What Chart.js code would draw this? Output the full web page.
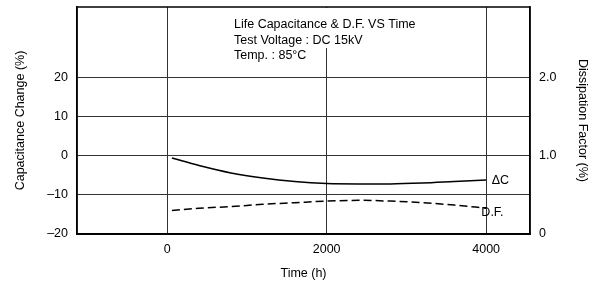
<!DOCTYPE html>
<html>
<head>
<meta charset="utf-8">
<script src="https://cdn.jsdelivr.net/npm/chart.js@4/dist/chart.umd.min.js"></script>
<style>
  html, body { margin: 0; padding: 0; background: #fff; }
  #wrap { width: 600px; height: 288px; }
</style>
</head>
<body>
<div id="wrap"><canvas id="plot"></canvas></div>
<script>
// data
const hours = [60, 400, 800, 1200, 1600, 2000, 2400, 2800, 3200, 3600, 4000];
const capChange = [-0.6, -2.5, -4.4, -5.7, -6.6, -7.1, -7.2, -7.2, -7.0, -6.6, -6.2];
const dissFactor = [0.30, 0.33, 0.35, 0.38, 0.40, 0.42, 0.43, 0.42, 0.40, 0.37, 0.33];

const xTicks = [0, 2000, 4000];
const leftTicks = [-20, -10, 0, 10, 20];
const rightTicks = [0, 1, 2];
const rightLabels = { 0: "0", 1: "1.0", 2: "2.0" };

const noteLines = ["Life Capacitance & D.F. VS Time", "Test Voltage : DC 15kV", "Temp. : 85\u00B0C"];
// curve labels: [text, hours, value, axis]
const curveLabels = [["\u0394C", 4070, -6.4, "y"], ["D.F.", 3940, 0.27, "y1"]];

const font = "'Liberation Sans', Arial, sans-serif";
Chart.defaults.font.family = font;
Chart.defaults.color = "#000";

const frame = {
  id: "frame",
  beforeDatasetsDraw(chart) {
    const { ctx, chartArea: a } = chart;
    ctx.save();
    // white box behind the note text
    ctx.fillStyle = "#fff";
    ctx.fillRect(230, a.top + 1, 196, 48 - a.top - 1);
    ctx.strokeStyle = "#000";
    ctx.lineWidth = 1.5;
    ctx.strokeRect(a.left, a.top, a.right - a.left, a.bottom - a.top);
    ctx.restore();
  },
  afterDraw(chart) {
    const { ctx } = chart;
    ctx.save();
    ctx.fillStyle = "#000";
    ctx.font = "12.5px " + font;
    ctx.textBaseline = "alphabetic";
    noteLines.forEach((t, i) => ctx.fillText(t, 234, 28 + i * 15.5));
    ctx.textBaseline = "middle";
    curveLabels.forEach(([t, h, v, ax]) => {
      ctx.fillText(t, chart.scales.x.getPixelForValue(h), chart.scales[ax].getPixelForValue(v));
    });
    ctx.restore();
  }
};

function fixWidth(w) {
  return (s) => { s.width = w; s.paddingTop = 0; s.paddingBottom = 0; };
}

new Chart(document.getElementById("plot"), {
  type: "line",
  data: {
    labels: hours,
    datasets: [
      {
        label: "\u0394C",
        data: hours.map((h, i) => ({ x: h, y: capChange[i] })),
        yAxisID: "y",
        borderColor: "#000",
        borderWidth: 1.5,
        pointRadius: 0,
        cubicInterpolationMode: "monotone",
        fill: false
      },
      {
        label: "D.F.",
        data: hours.map((h, i) => ({ x: h, y: dissFactor[i] })),
        yAxisID: "y1",
        borderColor: "#000",
        borderWidth: 1.5,
        borderDash: [8, 4],
        pointRadius: 0,
        cubicInterpolationMode: "monotone",
        fill: false
      }
    ]
  },
  options: {
    responsive: true,
    maintainAspectRatio: false,
    animation: false,
    layout: { padding: { top: 7, left: 0, right: 0, bottom: 0 } },
    plugins: { legend: { display: false }, tooltip: { enabled: false } },
    scales: {
      x: {
        type: "linear",
        min: -1130,
        max: 4550,
        afterBuildTicks: (s) => { s.ticks = xTicks.map((v) => ({ value: v })); },
        afterFit: (s) => { s.height = 54; s.paddingLeft = 0; s.paddingRight = 0; },
        ticks: { padding: 8, font: { size: 12.5 }, callback: (v) => String(v) },
        grid: { color: "#333", lineWidth: 1, drawTicks: false },
        border: { color: "#000", width: 1.5 },
        title: { display: true, text: "Time (h)", font: { size: 12.5 }, padding: { top: 0, bottom: 7 } }
      },
      y: {
        position: "left",
        min: -20,
        max: 38,
        afterBuildTicks: (s) => { s.ticks = leftTicks.map((v) => ({ value: v })); },
        afterFit: fixWidth(77),
        ticks: { padding: 9, font: { size: 12.5 }, callback: (v) => String(v).replace("-", "\u2013") },
        grid: { color: "#333", lineWidth: 1, drawTicks: false },
        border: { color: "#000", width: 1.5 },
        title: { display: true, text: "Capacitance Change (%)", font: { size: 12.5 }, padding: { top: 13, bottom: 0 } }
      },
      y1: {
        position: "right",
        min: 0,
        max: 2.9,
        afterBuildTicks: (s) => { s.ticks = rightTicks.map((v) => ({ value: v })); },
        afterFit: fixWidth(70),
        ticks: { padding: 9, font: { size: 12.5 }, callback: (v) => rightLabels[v] },
        grid: { display: false, drawTicks: false },
        border: { color: "#000", width: 1.5 },
        title: { display: true, text: "Dissipation Factor (%)", font: { size: 12.5 }, padding: { top: 10, bottom: 0 } }
      }
    }
  },
  plugins: [frame]
});
</script>
</body>
</html>
